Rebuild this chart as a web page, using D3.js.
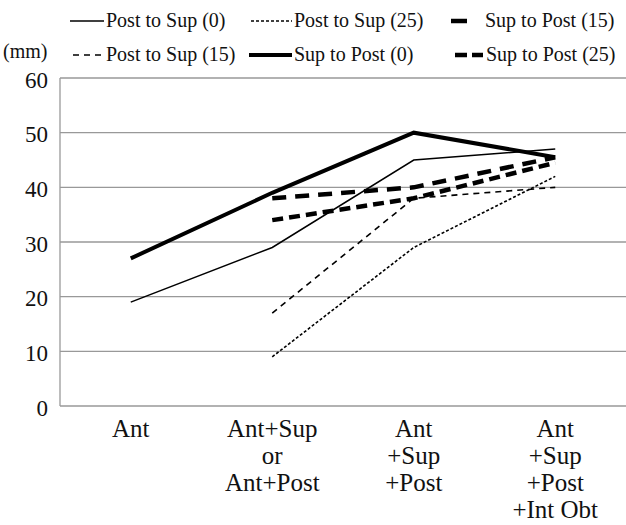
<!DOCTYPE html>
<html><head><meta charset="utf-8">
<script src="https://cdn.jsdelivr.net/npm/d3@7"></script>
<style>body{margin:0;background:#fff}svg{display:block}</style>
</head><body>
<script>
const categories = [["Ant"],["Ant+Sup","or","Ant+Post"],["Ant","+Sup","+Post"],["Ant","+Sup","+Post","+Int Obt"]];
const postToSup0  = [19, 29, 45, 47];
const postToSup15 = [null, 17, 38, 40];
const postToSup25 = [null, 9, 29, 42];
const supToPost0  = [27, 39, 50, 45.5];
const supToPost15 = [null, 38, 40, 45.5];
const supToPost25 = [null, 34, 38, 44.5];
const yTicks = [0,10,20,30,40,50,60];

(function(){
const series = [
  {name:"Post to Sup (0)", values:postToSup0, w:1.5, dash:null},
  {name:"Post to Sup (15)", values:postToSup15, w:1.6, dash:"6,5"},
  {name:"Post to Sup (25)", values:postToSup25, w:1.6, dash:"3,2"},
  {name:"Sup to Post (0)", values:supToPost0, w:4, dash:null},
  {name:"Sup to Post (15)", values:supToPost15, w:4.5, dash:"14,9"},
  {name:"Sup to Post (25)", values:supToPost25, w:4.5, dash:"11,6"}
];

const W=626,H=525;
const svg=d3.select("body").append("svg").attr("width",W).attr("height",H);
const pl=60,pr=626,pt=78,pb=406;
const x=d3.scaleBand().domain(d3.range(4)).range([pl,pr]);
const y=d3.scaleLinear().domain([0,60]).range([pb,pt]);
const font="'Liberation Serif', 'Times New Roman', serif";

svg.append("g").selectAll("line").data(yTicks).join("line")
  .attr("x1",pl).attr("x2",pr).attr("y1",d=>y(d)).attr("y2",d=>y(d))
  .attr("stroke","#999").attr("stroke-width",1.3);
svg.append("line").attr("x1",pl).attr("x2",pl).attr("y1",pt).attr("y2",pb)
  .attr("stroke","#999").attr("stroke-width",1.3);

const yAxis=svg.append("g").attr("transform",`translate(${pl},0)`)
  .call(d3.axisLeft(y).tickValues(yTicks).tickSize(0).tickPadding(12));
yAxis.select(".domain").remove();
yAxis.selectAll("text").attr("font-family",font).attr("font-size",23).attr("fill","#111").attr("dy","0.4em");

const xl=svg.append("g");
categories.forEach((lines,i)=>{
  const cx=x(i)+x.bandwidth()/2;
  const t=xl.append("text").attr("x",cx).attr("y",437)
    .attr("text-anchor","middle").attr("font-family",font).attr("font-size",25).attr("fill","#111");
  lines.forEach((l,j)=>t.append("tspan").attr("x",cx).attr("dy",j?27:0).text(l));
});

const line=d3.line().defined(d=>d!=null).x((d,i)=>x(i)+x.bandwidth()/2).y(d=>y(d));
svg.append("g").selectAll("path").data(series).join("path")
  .attr("d",s=>line(s.values)).attr("fill","none").attr("stroke","#000")
  .attr("stroke-width",s=>s.w).attr("stroke-dasharray",s=>s.dash);

const leg=[
  {s:0,x1:70,x2:104,tx:106,y:21,dash:null},
  {s:2,x1:251,x2:292,tx:294,y:21,dash:"3,2"},
  {s:4,x1:451,x2:467,tx:485,y:21,dash:null},
  {s:1,x1:73,x2:104,tx:106,y:55,dash:"6,5"},
  {s:3,x1:249,x2:292,tx:294,y:55,dash:null},
  {s:5,x1:455,x2:483,tx:486,y:55,dash:"12,5"}
];
const lg=svg.append("g");
leg.forEach(l=>{
  const s=series[l.s];
  lg.append("line").attr("x1",l.x1).attr("x2",l.x2).attr("y1",l.y).attr("y2",l.y)
    .attr("stroke","#000").attr("stroke-width",s.w).attr("stroke-dasharray",l.dash);
  lg.append("text").attr("x",l.tx).attr("y",l.y+6)
    .attr("font-family",font).attr("font-size",20).attr("fill","#111").text(s.name);
});
svg.append("text").attr("x",3).attr("y",58)
  .attr("font-family",font).attr("font-size",20).attr("fill","#111").text("(mm)");
})();
</script>
</body></html>
